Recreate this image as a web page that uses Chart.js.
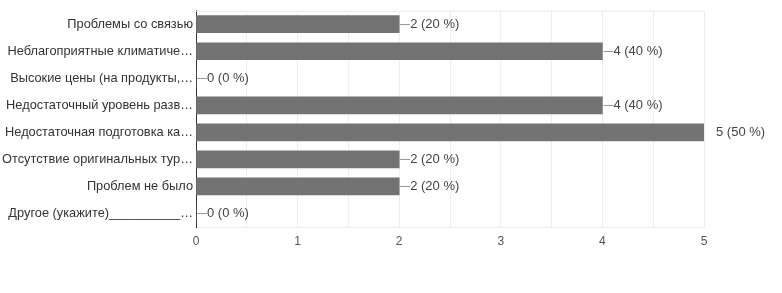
<!DOCTYPE html>
<html>
<head>
<meta charset="utf-8">
<script src="https://cdn.jsdelivr.net/npm/chart.js@4"></script>
<style>
  html, body { margin: 0; padding: 0; background: #fff; }
  #wrap { width: 782px; height: 293px; }
</style>
</head>
<body>
<div id="wrap"><canvas id="chart"></canvas></div>
<script>
const categories = [
  'Проблемы со связью',
  'Неблагоприятные климатиче…',
  'Высокие цены (на продукты,…',
  'Недостаточный уровень разв…',
  'Недостаточная подготовка ка…',
  'Отсутствие оригинальных тур…',
  'Проблем не было',
  'Другое (укажите)__________…'
];
const counts = [2, 4, 0, 4, 5, 2, 2, 0];
const percents = [20, 40, 0, 40, 50, 20, 20, 0];

// value labels with a short leader line, google forms style
const valueLabels = {
  id: 'valueLabels',
  afterDatasetsDraw(chart) {
    const ctx = chart.ctx;
    const meta = chart.getDatasetMeta(0);
    const area = chart.chartArea;
    ctx.save();
    ctx.font = '13px "Liberation Sans", Arial, sans-serif';
    ctx.textBaseline = 'middle';
    ctx.textAlign = 'left';
    meta.data.forEach((bar, i) => {
      const txt = counts[i] + ' (' + percents[i] + ' %)';
      const x = bar.x;
      const y = bar.y;
      ctx.fillStyle = '#444';
      if (x >= area.right - 1) {
        ctx.fillText(txt, x + 12, y);
      } else {
        ctx.strokeStyle = '#999';
        ctx.lineWidth = 1;
        ctx.beginPath();
        ctx.moveTo(x + 1, Math.round(y) + 0.5);
        ctx.lineTo(x + 11, Math.round(y) + 0.5);
        ctx.stroke();
        ctx.fillText(txt, x + 11, y);
      }
    });
    ctx.restore();
  }
};

const frame = {
  id: 'frame',
  beforeDatasetsDraw(chart) {
    const ctx = chart.ctx;
    const a = chart.chartArea;
    ctx.save();
    ctx.strokeStyle = '#ebebeb';
    ctx.lineWidth = 1;
    ctx.beginPath();
    ctx.moveTo(a.left, a.top + 0.5);
    ctx.lineTo(a.right, a.top + 0.5);
    ctx.stroke();
    ctx.restore();
  }
};

new Chart(document.getElementById('chart'), {
  type: 'bar',
  plugins: [valueLabels, frame],
  data: {
    labels: categories,
    datasets: [{
      data: counts,
      backgroundColor: '#737373',
      barThickness: 17,
    }]
  },
  options: {
    indexAxis: 'y',
    responsive: true,
    maintainAspectRatio: false,
    animation: false,
    layout: {
      padding: { top: 10, right: 78, left: 0, bottom: 0 }
    },
    plugins: {
      legend: { display: false },
      tooltip: { enabled: false }
    },
    scales: {
      x: {
        min: 0,
        max: 5,
        afterFit(scale) { scale.height = 66; },
        border: { display: true, color: '#ebebeb' },
        grid: {
          color: '#eeeeee',
          drawTicks: false
        },
        ticks: {
          stepSize: 0.5,
          padding: 7,
          autoSkip: false,
          maxRotation: 0,
          color: '#555',
          font: { family: '"Liberation Sans", Arial, sans-serif', size: 12 },
          callback: (v) => Number.isInteger(v) ? v : ''
        }
      },
      y: {
        afterFit(scale) { scale.width = 196; },
        border: { display: true, color: '#333' },
        grid: { display: false, drawTicks: false },
        ticks: {
          padding: 3,
          autoSkip: false,
          color: '#333',
          font: { family: '"Liberation Sans", Arial, sans-serif', size: 12.8 }
        }
      }
    }
  }
});
</script>
</body>
</html>
